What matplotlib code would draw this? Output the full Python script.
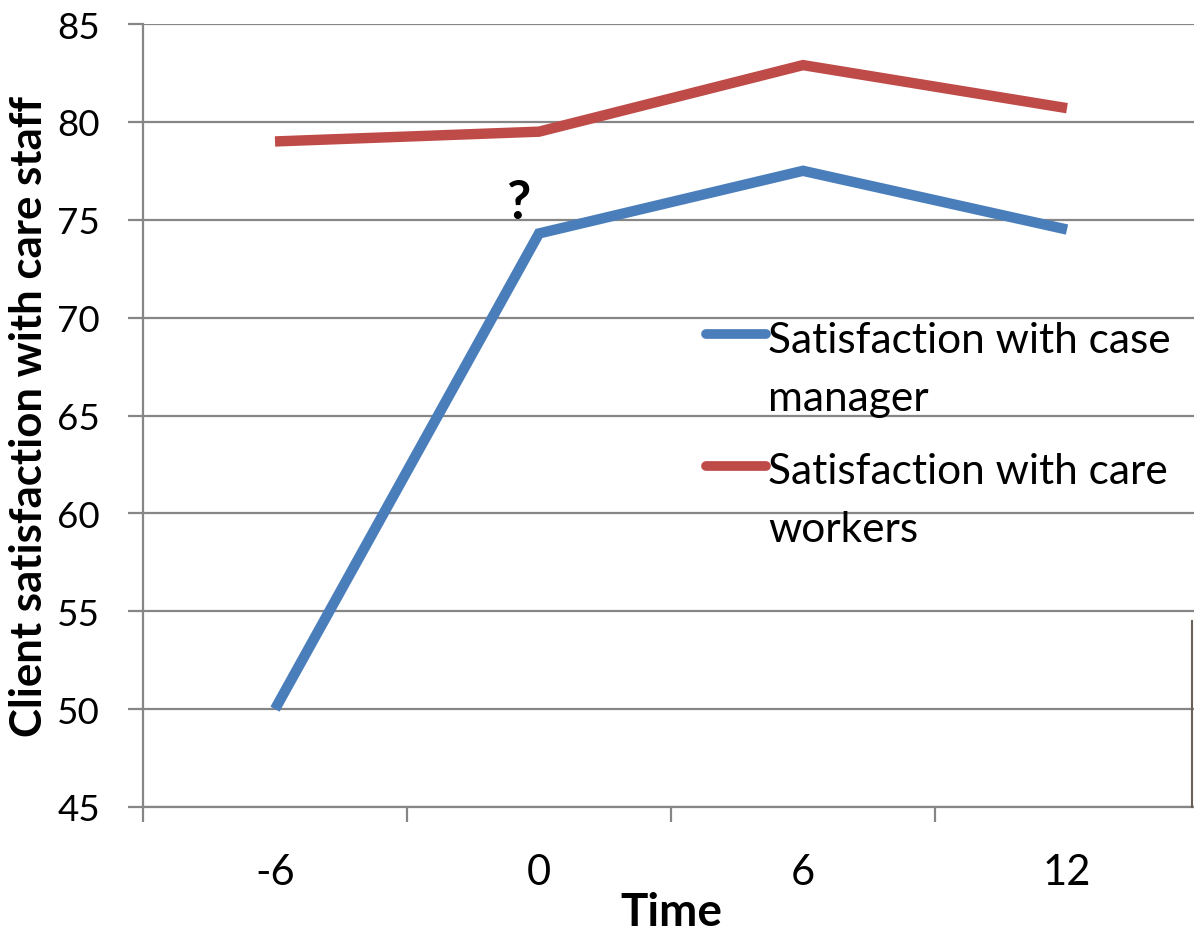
import matplotlib
matplotlib.use("Agg")
import matplotlib.pyplot as plt
from matplotlib.lines import Line2D

categories = ["-6", "0", "6", "12"]
case_manager = [50.0, 74.3, 77.5, 74.5]
care_workers = [79.0, 79.5, 82.9, 80.7]
series_names = ["Satisfaction with case\nmanager", "Satisfaction with care\nworkers"]
colors = ["#4A7EBB", "#BE4B48"]
yticks = [45, 50, 55, 60, 65, 70, 75, 80, 85]

plt.rcParams['font.family'] = ['Lato', 'DejaVu Sans']

fig = plt.figure(figsize=(11.94, 9.37), dpi=100)
ax = fig.add_axes([143/1194, (937-808)/937, (1199-143)/1194, (808-25)/937])

x = list(range(len(categories)))
for vals, c in zip([case_manager, care_workers], colors):
    ax.plot(x, vals, color=c, lw=7.5, solid_capstyle='butt', solid_joinstyle='miter', zorder=3)

ax.set_xlim(-0.5, len(categories) - 0.5)
ax.set_ylim(45, 85)
ax.set_yticks(yticks)
ax.yaxis.grid(True, color='#868686', lw=1.6)
ax.set_axisbelow(True)
ax.tick_params(axis='y', length=11, width=1.6, color='#868686', labelsize=26.5, pad=20)

ax.set_xticks([i - 0.5 for i in range(len(categories) + 1)])
ax.set_xticklabels([])
ax.set_xticks(x, minor=True)
ax.set_xticklabels(categories, minor=True)
ax.tick_params(axis='x', which='major', length=11, width=1.6, color='#868686')
ax.tick_params(axis='x', which='minor', length=0, labelsize=30, pad=33)

for s in ['top', 'right']:
    ax.spines[s].set_visible(False)
for s in ['left', 'bottom']:
    ax.spines[s].set_color('#868686')
    ax.spines[s].set_linewidth(1.6)

ax.set_ylabel("Client satisfaction with care staff", fontsize=31.5, fontweight='bold', labelpad=6)
ax.set_xlabel("Time", fontsize=33, fontweight='bold', labelpad=0)

ax.text(0.92, 75.9, "?", fontsize=38, fontweight='bold', ha='center', va='center')

# legend (manual, Excel-like wrapping: handle aligned to first text line)
handle_px = [335, 467]
line_gap = 58
for name, c, hp in zip(series_names, colors, handle_px):
    yy = (808 - hp) / 783
    x0 = (706 - 143) / 1056
    x1 = (766 - 143) / 1056
    ax.add_line(Line2D([x0, x1], [yy, yy], transform=ax.transAxes, color=c, lw=7,
                       solid_capstyle='round', clip_on=False))
    for k, part in enumerate(name.split("\n")):
        ty = (808 - (hp + 2 + k * line_gap)) / 783
        ax.text((768 - 143) / 1056, ty, part, transform=ax.transAxes, fontsize=30.5,
                ha='left', va='center_baseline')

# right-edge artifact line
fig.add_artist(Line2D([1192/1194, 1192/1194], [(937-622)/937, (937-808)/937], color='#6b6058', lw=1.5))

fig.savefig("out.png", dpi=100)
